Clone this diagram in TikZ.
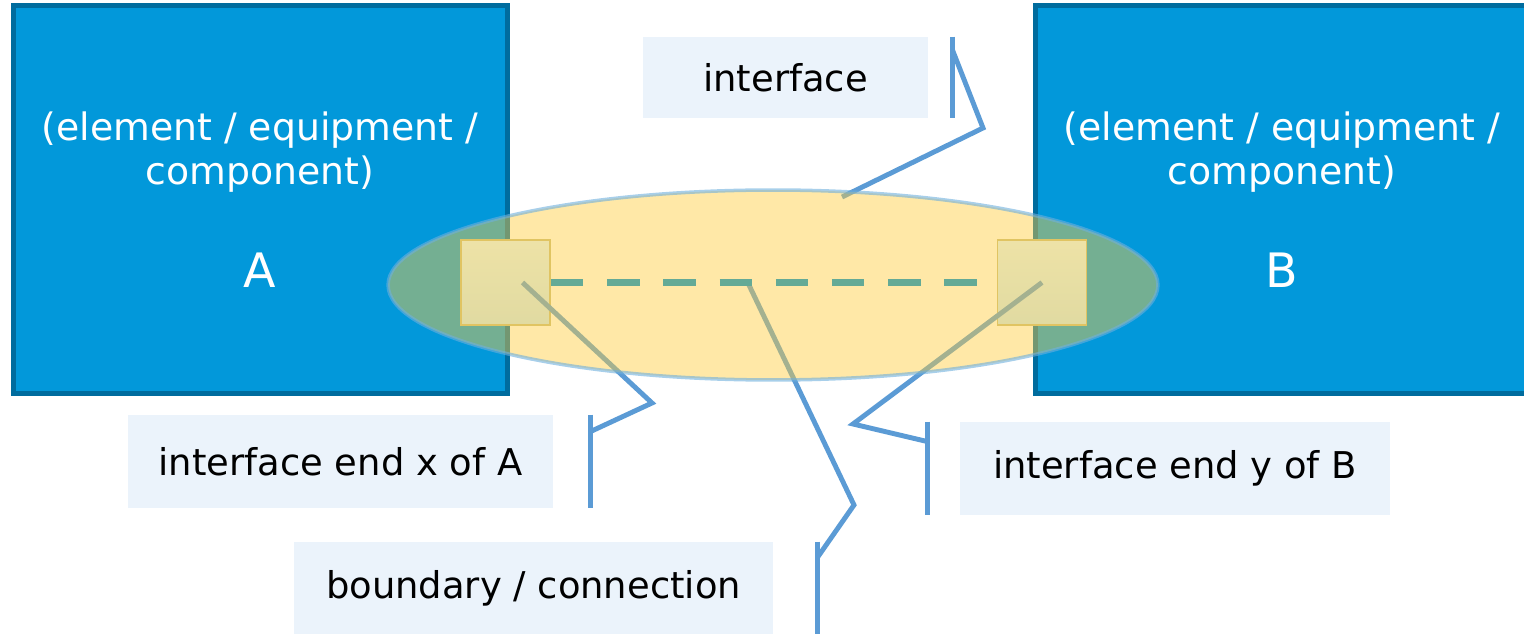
\documentclass[tikz,border=0pt]{standalone}
\usepackage{fontspec}
\setmainfont{DejaVu Sans}
\usetikzlibrary{shapes.geometric,positioning}
\definecolor{blockblue}{RGB}{2,152,218}
\definecolor{blockedge}{RGB}{0,108,158}
\definecolor{leaderblue}{RGB}{91,155,213}
\definecolor{labelfill}{RGB}{235,243,251}
\definecolor{zonefill}{RGB}{255,205,60}
\definecolor{zoneedge}{RGB}{110,175,220}
\definecolor{linkteal}{RGB}{100,170,150}
\definecolor{endtop}{RGB}{225,245,255}
\definecolor{endbot}{RGB}{200,230,245}
\definecolor{endedge}{RGB}{200,190,130}

\begin{document}
\begin{tikzpicture}[x=0.02cm,y=-0.02cm,
    block/.style={draw=blockedge,line width=2.8pt,fill=blockblue,minimum width=9.9cm,minimum height=7.76cm,inner sep=0pt},
    blocktext/.style={text=white,align=center,font=\fontsize{21.5}{25.5}\selectfont},
    blockname/.style={text=white,font=\fontsize{27}{32}\selectfont},
    tag/.style={fill=labelfill,minimum height=1.86cm,inner sep=0pt,font=\fontsize{21}{25}\selectfont},
    leader/.style={draw=leaderblue,line width=2.8pt,line join=miter},
    endpoint/.style={draw=endedge,line width=1pt,top color=endtop,bottom color=endbot,minimum width=1.78cm,minimum height=1.7cm,inner sep=0pt}]
  \useasboundingbox (0,0) rectangle (1524,634);

  % the two blocks
  \node[block] (A) at (260.5,199.5) {};
  \node[block] (B) at (1282.5,199.5) {};
  \node[blocktext] (Atext) at (260,152) {(element / equipment /\\component)};
  \node[blockname] (Aname) at (260,270) {A};
  \node[blocktext] (Btext) at (1282,152) {(element / equipment /\\component)};
  \node[blockname] (Bname) at (1282,270) {B};

  % interface ends
  \node[endpoint] (endA) at (505.5,282.5) {};
  \node[endpoint] (endB) at (1042,282.5) {};

  % labels
  \node[tag,minimum width=5.7cm,minimum height=1.62cm] (ifc) at (785.5,77.5) {interface};
  \node[tag,minimum width=8.5cm] (xofA) at (340.5,461.5) {interface end x of A};
  \node[tag,minimum width=8.6cm] (yofB) at (1175,468.5) {interface end y of B};
  \node[tag,minimum width=9.58cm,minimum height=1.84cm] (bnd) at (533.5,588) {\raisebox{-0.08cm}{boundary / connection}};

  % leader knees and targets
  \coordinate (ifcknee) at (983,128);
  \coordinate (ifcend) at (842,197);
  \coordinate (xknee) at (652,403);
  \coordinate (yknee) at (853,424);
  \coordinate (bndknee) at (854,505);
  \coordinate (bndend) at (748,283);

  % callout bars and leaders
  \draw[leader] ([xshift=0.48cm]ifc.north east) -- ([xshift=0.48cm]ifc.south east);
  \draw[leader] ([xshift=0.48cm,yshift=-0.26cm]ifc.north east) -- (ifcknee) -- (ifcend);
  \draw[leader] ([xshift=0.74cm]xofA.north east) -- ([xshift=0.74cm]xofA.south east);
  \draw[leader] ([xshift=0.74cm,yshift=-0.34cm]xofA.north east) -- (xknee) -- ([xshift=0.34cm]endA.center);
  \draw[leader] ([xshift=-0.64cm]yofB.north west) -- ([xshift=-0.64cm]yofB.south west);
  \draw[leader] ([xshift=-0.64cm,yshift=-0.4cm]yofB.north west) -- (yknee) -- (endB.center);
  \draw[leader] ([xshift=0.88cm]bnd.north east) -- ([xshift=0.88cm]bnd.south east);
  \draw[leader] ([xshift=0.88cm,yshift=-0.32cm]bnd.north east) -- (bndknee) -- (bndend);

  % boundary zone
  \node[ellipse,draw=zoneedge,draw opacity=0.6,line width=2pt,fill=zonefill,fill opacity=0.45,
        minimum width=15.4cm,minimum height=3.8cm,inner sep=0pt] (zone) at (773,285) {};

  % connection
  \draw[linkteal,line width=4.5pt,dash pattern=on 18.5pt off 13.5pt] (endA.east) -- (endB.west);
\end{tikzpicture}
\end{document}
